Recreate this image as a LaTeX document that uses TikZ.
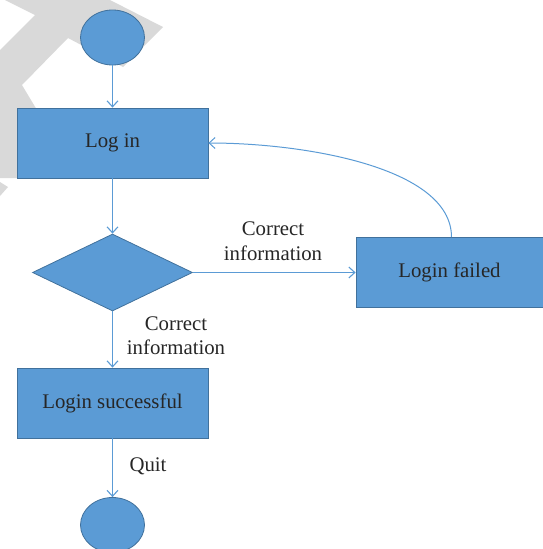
\documentclass[tikz,border=0pt]{standalone}
\usepackage{fontspec}
\setmainfont{Liberation Serif}
\usetikzlibrary{shapes.geometric,arrows.meta}
\definecolor{boxblue}{HTML}{5B9BD5}
\definecolor{boxedge}{HTML}{41719C}
\definecolor{lineblue}{HTML}{5B9BD5}
\definecolor{wm}{HTML}{D9D9D9}
\definecolor{txt}{HTML}{262626}
\begin{document}
\begin{tikzpicture}[x=1pt,y=-1pt,
  every node/.style={font=\fontsize{20.8}{24.5}\selectfont, text=txt},
  blockbox/.style={draw=boxedge, fill=boxblue, line width=0.8pt, minimum width=191pt, minimum height=70pt, inner sep=0pt},
  endpt/.style={ellipse, draw=boxedge, fill=boxblue, line width=0.8pt, minimum width=64pt, minimum height=55pt, inner sep=0pt},
  decide/.style={diamond, draw=boxedge, fill=boxblue, line width=0.8pt, minimum width=160pt, minimum height=77pt, inner sep=0pt},
  conn/.style={draw=lineblue, line width=1.1pt, -{Straight Barb[length=6pt,width=11pt]}},
  lbl/.style={align=center, inner sep=0pt}
]
\clip (0,0) rectangle (543,549);
\useasboundingbox (0,0) rectangle (543,549);
% watermark
\fill[wm] (5,0) -- (110,0) -- (163,27) -- (123,67) -- (68,38) -- (22,85) -- (40,115) -- (17,150) -- (17,178) -- (0,178) -- (0,50) -- (35,15) -- cycle;
\fill[wm] (0,182) -- (8,187) -- (0,196) -- cycle;
% nodes
\node[endpt] (start) at (112.5,37.5) {};
\node[blockbox] (login) at (112.5,143) {Log in};
\node[decide] (dec) at (112.5,272.5) {};
\node[blockbox, minimum width=187pt] (fail) at (449.5,272.5) {Login failed};
\node[blockbox] (succ) at (112.5,403) {Login successful};
\node[endpt] (stop) at (112.5,525) {};
% labels
\node[lbl] (l1) at (273,241) {Correct\\information};
\node[lbl] (l2) at (176,335.5) {Correct\\information};
\node[lbl] (l3) at (148,466) {Quit};
% connectors
\draw[conn] (start) -- (login);
\draw[conn] (login) -- (dec);
\draw[conn] (dec.east) -- (fail.west);
\draw[conn] (dec.south) -- (succ.north);
\draw[conn] (succ) -- (stop);
\draw[conn, line width=1pt] ([xshift=2pt]fail.north) .. controls +(0,-70) and +(95,0) .. (login.east);
\end{tikzpicture}
\end{document}
